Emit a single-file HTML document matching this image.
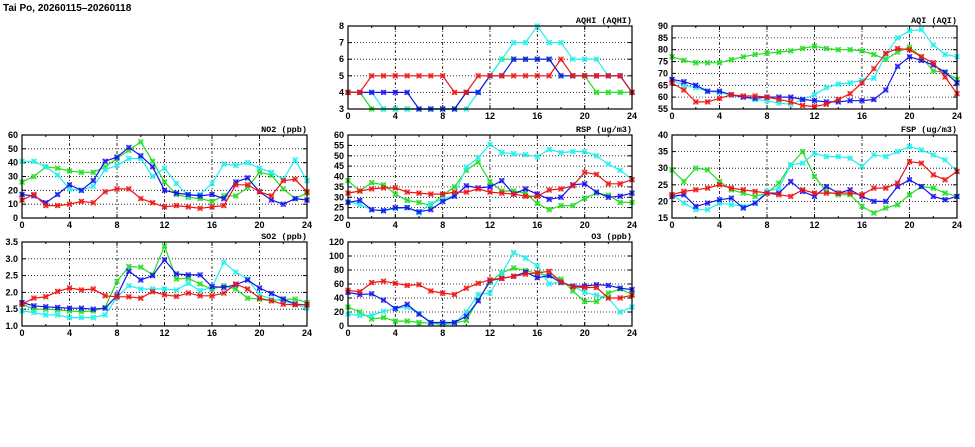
<!DOCTYPE html>
<html><head><meta charset="utf-8"><style>
html,body{margin:0;padding:0;background:#fff;width:975px;height:447px;overflow:hidden}
svg{display:block;font-family:"Liberation Sans",sans-serif}
</style></head><body>
<svg id="s" width="975" height="447" xmlns="http://www.w3.org/2000/svg">
<text x="3" y="11" font-size="10" font-weight="bold">Tai Po, 20260115–20260118</text>
</svg>
<script>
const C={g:"#22dd22",c:"#22eeee",b:"#1414ee",r:"#ee1414"};
const P=[
{t:"AQHI (AQHI)",x0:348,x1:632,y0:26,y1:109,min:3,max:8,step:1,dec:0,d:{
g:[4,4,3,3,3,3,3,3,3,3,4,4,5,6,6,6,6,6,5,5,5,4,4,4,4],
c:[4,4,4,3,3,3,3,3,3,3,3,4,5,6,7,7,8,7,7,6,6,6,5,5,4],
b:[4,4,4,4,4,4,3,3,3,3,4,4,5,5,6,6,6,6,5,5,5,5,5,5,4],
r:[4,4,5,5,5,5,5,5,5,4,4,5,5,5,5,5,5,5,6,5,5,5,5,5,4]}},
{t:"AQI (AQI)",x0:672,x1:957,y0:26,y1:109,min:55,max:90,step:5,dec:0,d:{
g:[77,75.5,74.5,74.5,74.5,75.8,77,78,78.5,79,79.5,80.5,81.5,80.5,80,80,79.5,78,76,79,81,77,71,70.5,67.5],
c:[67,65,64,62.5,62,61,60,59,58.5,57.5,57,59,61,64,65.5,66,67,68,78,85,88,88.5,82,78,77],
b:[67.5,66.5,65,62.5,62.5,61,60,59.5,60,60,60,59,58.5,58,58,58.5,58.5,59,63,73,77,75.5,73.5,70.5,66],
r:[66,63,58,58,59.5,61,60.5,60.5,60,59,58,56.5,56,57,59,61.5,66,72,78.5,80.5,80,77,74.5,68.5,61.5]}},
{t:"NO2 (ppb)",x0:22,x1:307,y0:135,y1:218,min:0,max:60,step:10,dec:0,d:{
g:[26,30,37,36,34,33,33,37,43,49,55,41,26,17,15,14,12,16,16,22,33,31,21,14,18],
c:[41,41,37,31,21,20,23,35,38,43,43,30,36,25,16,17,25,39,38,40,36,33,28,42,27],
b:[17,16,11,17,24,20,27,41,44,51,45,37,20,18,17,16,17,14,26,29,19,13,10,14,13],
r:[13,17,9,9,10,12,11,19,21,21,14,11,8,9,8,7,8,9,24,24,19,16,27,28,19]}},
{t:"RSP (ug/m3)",x0:348,x1:632,y0:135,y1:218,min:20,max:60,step:5,dec:0,d:{
g:[38,33,37,36,31.5,28.5,27.5,26,31,35,43,47,37.5,33,33,32,27,24,26,26,29.5,32,31,27.5,27.5],
c:[28,26.5,24,23.5,24.5,25,22.5,27,29,31,44.5,49,55.5,51.5,51,50.5,49.5,53,51.5,52,52,50,46,43,38.5],
b:[27.5,28.5,24,23.5,25,25,23,24,28,30.5,35.5,34.5,35,38,31.5,34,31.5,29,30,36,36.5,32.5,30,30.5,32],
r:[32,33,34,34.5,34.5,32.5,32,31.5,31.5,32.5,32.5,34,32.5,32,31.5,30.5,30.5,33.5,34,35.5,42,41,36.5,36.5,38.5]}},
{t:"FSP (ug/m3)",x0:672,x1:957,y0:135,y1:218,min:15,max:40,step:5,dec:0,d:{
g:[29.5,26,30,29.5,26,23.5,22.5,21.5,22.5,25.5,31,35,27.5,23,22,22,18.5,16.5,18,19,22,24.5,24,22.5,21.5],
c:[22,19.5,17.5,17.5,19.5,19,18.5,19.5,23,24,31,31.5,34.5,33.5,33.5,33,30.5,34,33.5,35,36.5,35.5,34,32.5,29],
b:[21.5,22,18.5,19.5,20.5,21,18,19.5,22.5,22.5,26,23,21.5,24.5,22.5,23.5,21.5,20,20,24.5,26.5,24.5,21.5,20.5,21.5],
r:[22,23,23.5,24,25,24,23.5,23,22.5,22,21.5,23.5,22.5,22.5,22.5,22.5,22,24,24,25.5,32,31.5,28,26.5,29]}},
{t:"SO2 (ppb)",x0:22,x1:307,y0:242,y1:326,min:1,max:3.5,step:0.5,dec:1,d:{
g:[1.65,1.5,1.5,1.48,1.45,1.43,1.45,1.55,2.33,2.77,2.75,2.53,3.38,2.4,2.42,2.25,2.1,2.2,2.1,1.83,1.8,1.75,1.8,1.8,1.7],
c:[1.45,1.4,1.33,1.33,1.25,1.25,1.25,1.33,1.85,2.2,2.1,2.1,2.1,2.07,2.27,2.05,2.15,2.9,2.6,2.4,1.93,1.8,1.75,1.65,1.53],
b:[1.7,1.6,1.57,1.55,1.53,1.53,1.5,1.53,1.9,2.63,2.37,2.5,2.97,2.55,2.52,2.52,2.17,2.15,2.23,2.37,2.13,1.97,1.8,1.65,1.63],
r:[1.65,1.83,1.87,2.03,2.13,2.07,2.1,1.9,1.87,1.87,1.83,2.02,1.93,1.88,1.98,1.9,1.9,1.98,2.25,2.1,1.83,1.75,1.65,1.63,1.63]}},
{t:"O3 (ppb)",x0:348,x1:632,y0:242,y1:326,min:0,max:120,step:20,dec:0,d:{
g:[27,20,10,12,7,7,5,4,2,4,8,37,63,76,83,79,75,72,67,50,35,35,47,53,45],
c:[17,15,15,21,25,27,18,5,4,4,20,45,47,75,105,97,86,60,63,57,48,44,40,20,27],
b:[48,45,46,37,25,31,17,5,5,5,14,36,65,68,71,77,69,72,62,57,57,59,58,54,52],
r:[51,49,62,64,61,58,59,50,47,45,54,61,66,68,71,74,76,78,63,56,55,55,40,40,44]}}
];
let h="";
for(const p of P){
 const X=i=>p.x0+(p.x1-p.x0)*i/24, Y=v=>p.y1-(p.y1-p.y0)*(v-p.min)/(p.max-p.min);
 // grid
 for(let v=p.min+p.step;v<p.max-1e-9;v+=p.step){const y=Y(v).toFixed(1);h+=`<line x1="${p.x0}" x2="${p.x1}" y1="${y}" y2="${y}" stroke="#000" stroke-width="0.8" stroke-dasharray="1,2"/>`;}
 for(let i=4;i<24;i+=4){const x=X(i).toFixed(1);h+=`<line x1="${x}" x2="${x}" y1="${p.y0}" y2="${p.y1}" stroke="#000" stroke-width="0.8" stroke-dasharray="3,2,1,2"/>`;}
 // ticks
 for(let i=0;i<=24;i+=2){const x=X(i).toFixed(1),l=i%4?2:4;h+=`<line x1="${x}" x2="${x}" y1="${p.y1}" y2="${p.y1-l}" stroke="#000"/><line x1="${x}" x2="${x}" y1="${p.y0}" y2="${p.y0+l}" stroke="#000"/>`;
  if(i%4==0)h+=`<text x="${x}" y="${p.y1+10}" font-size="9" font-weight="bold" text-anchor="middle">${i}</text>`;}
 for(let v=p.min;v<=p.max+1e-9;v+=p.step){const y=Y(v).toFixed(1);h+=`<line x1="${p.x0}" x2="${p.x0+4}" y1="${y}" y2="${y}" stroke="#000"/><line x1="${p.x1}" x2="${p.x1-4}" y1="${y}" y2="${y}" stroke="#000"/><text x="${p.x0-4}" y="${+y+3}" font-size="9" font-weight="bold" text-anchor="end">${v.toFixed(p.dec)}</text>`;}
 h+=`<text x="${p.x1}" y="${p.y0-3}" font-size="8.5" font-weight="bold" text-anchor="end" font-family="Liberation Mono,monospace">${p.t}</text>`;
 for(const k of ["g","c","b","r"]){
  const a=p.d[k];const pts=a.map((v,i)=>X(i).toFixed(1)+","+Y(v).toFixed(1)).join(" ");
  h+=`<polyline points="${pts}" fill="none" stroke="${C[k]}" stroke-width="1.2"/>`;
  a.forEach((v,i)=>{const x=X(i),y=Y(v);h+=`<rect x="${(x-2.5).toFixed(1)}" y="${(y-2.5).toFixed(1)}" width="5" height="5" fill="${C[k]}" opacity="0.55"/><path d="M${x-2.5} ${y-2.5}L${x+2.5} ${y+2.5}M${x-2.5} ${y+2.5}L${x+2.5} ${y-2.5}" stroke="${C[k]}" stroke-width="1"/>`;});
 }
 h+=`<rect x="${p.x0}" y="${p.y0}" width="${p.x1-p.x0}" height="${p.y1-p.y0}" fill="none" stroke="#000" stroke-width="1.2"/>`;
}
document.getElementById("s").insertAdjacentHTML("beforeend",h);
</script>
</body></html>
